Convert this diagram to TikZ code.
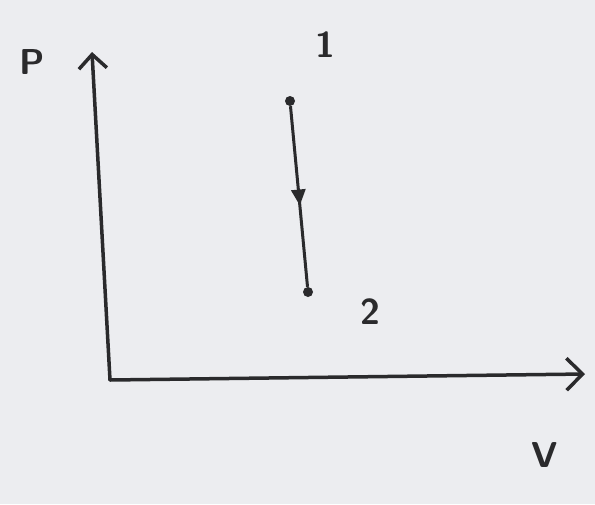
\documentclass[tikz,border=0pt]{standalone}
\usetikzlibrary{arrows.meta,decorations.markings}
\definecolor{bg}{HTML}{ECEDF0}
\definecolor{ink}{HTML}{2A2A2C}
\begin{document}
\begin{tikzpicture}[x=1pt,y=-1pt,
  axis/.style={draw=ink,line width=3.5pt,line cap=round},
  pt/.style={circle,fill=ink,inner sep=0pt,minimum size=10pt},
  lbl/.style={text=ink,font=\sffamily\bfseries\fontsize{36}{36}\selectfont},
  proc/.style={draw=ink,line width=3pt,postaction={decorate},
    decoration={markings,mark=at position 0.55 with {\arrow{Triangle[length=16pt,width=14pt]}}}}]
\fill[bg] (0,0) rectangle (595,504);
\useasboundingbox (0,0) rectangle (595,504);
\coordinate (o) at (110,380);
\coordinate (ytop) at (92,52);
\coordinate (xend) at (585,374);
\draw[axis,-{Straight Barb[length=14pt,width=28pt,line width=3.5pt]}] (o) -- (ytop);
\draw[axis,-{Straight Barb[length=16pt,width=32pt,line width=3.5pt]}] (o) -- (xend);
\node[lbl] (P) at (32,62) {P};
\node[lbl] (V) at (545,455) {V};
\node[pt] (p1) at (290,101) {};
\node[pt] (p2) at (308,292) {};
\node[lbl] (l1) at (325,45) {1};
\node[lbl] (l2) at (370,312) {2};
\draw[proc] (p1) -- (p2);
\end{tikzpicture}
\end{document}
